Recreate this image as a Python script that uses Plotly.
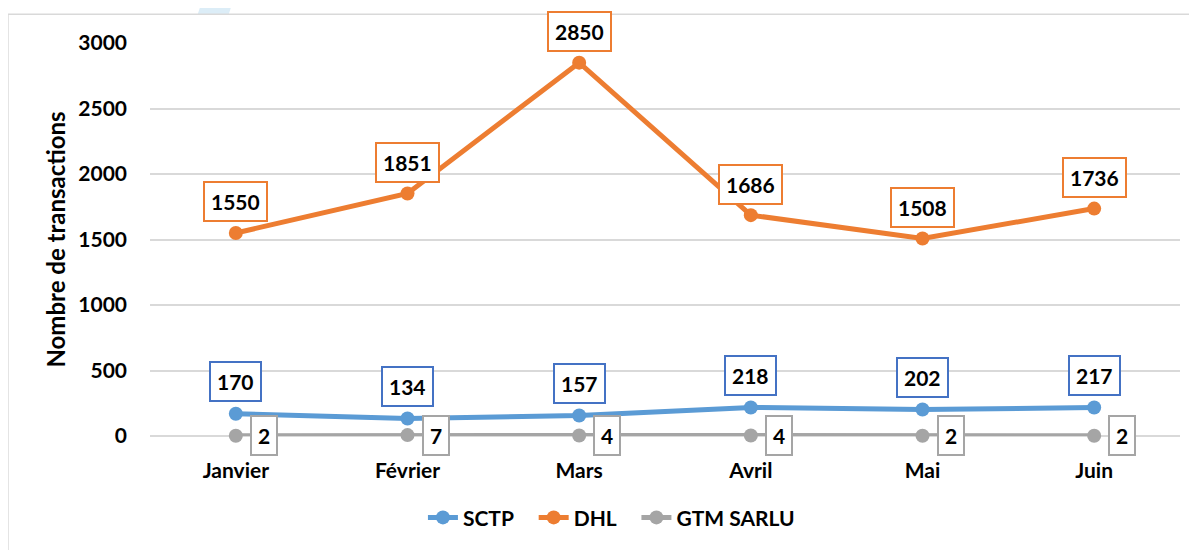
import plotly.graph_objects as go

months = ["Janvier", "Février", "Mars", "Avril", "Mai", "Juin"]
sctp = [170, 134, 157, 218, 202, 217]
dhl = [1550, 1851, 2850, 1686, 1508, 1736]
gtm = [2, 7, 4, 4, 2, 2]
y_ticks = [0, 500, 1000, 1500, 2000, 2500, 3000]

FONT = "Lato"
PAD = "\u00a0\u00a0\u00a0"
series = [
    ("SCTP", sctp, "#5B9BD5", "#4472C4", 0, 32),
    ("DHL", dhl, "#ED7D31", "#ED7D31", 0, 31),
    ("GTM SARLU", gtm, "#A5A5A5", "#A5A5A5", 28, 0),
]

fig = go.Figure()
annotations = []
for i, (name, vals, col, bcol, xs, ys) in enumerate(series):
    fig.add_trace(go.Scatter(
        x=months, y=vals, name=name + (PAD if i < len(series) - 1 else ""),
        mode="lines+markers",
        line=dict(color=col, width=5),
        marker=dict(color=col, size=14),
        cliponaxis=False,
    ))
    for m, v in zip(months, vals):
        annotations.append(dict(
            x=m, y=v, text=str(v), showarrow=False,
            xshift=xs, yshift=ys,
            font=dict(family=FONT, size=21, color="#000000", weight="bold"),
            bgcolor="#FFFFFF", bordercolor=bcol, borderwidth=2, borderpad=6,
        ))

shapes = [
    # decorative stripe outside the chart frame
    dict(type="path", xref="paper", yref="paper", layer="below",
         path="M 0.0534,1.13 L 0.0835,1.13 L 0.0748,1.06 L 0.0447,1.06 Z",
         fillcolor="#DCEDF7", line=dict(width=0)),
    # chart frame
    dict(type="rect", xref="paper", yref="paper", layer="below",
         x0=-0.1379, x1=1.03, y0=-0.35, y1=1.0734,
         line=dict(color="#D9D9D9", width=1.5), fillcolor="#FFFFFF"),
]

fig.update_layout(
    width=1189, height=542,
    margin=dict(l=142, r=17, t=35, b=112),
    paper_bgcolor="#FFFFFF", plot_bgcolor="rgba(0,0,0,0)",
    font=dict(family=FONT, size=21, color="#000000"),
    showlegend=True,
    legend=dict(orientation="h", x=0.448, xanchor="center", y=-0.208, yanchor="middle",
                font=dict(family=FONT, size=21, color="#000000", weight="bold"),
                tracegroupgap=0),
    annotations=annotations,
    shapes=shapes,
)
fig.update_xaxes(
    type="category", range=[-0.5, 5.5], autorange=False,
    showgrid=False, showline=False, zeroline=False, ticks="",
    tickfont=dict(family=FONT, size=21, color="#000000", weight="bold"),
    ticklabelstandoff=20,
)
fig.update_yaxes(
    range=[0, 3000], autorange=False, tickvals=y_ticks,
    showgrid=True, gridcolor="#D9D9D9", gridwidth=1.5,
    zeroline=True, zerolinecolor="#D9D9D9", zerolinewidth=1.5, showline=False, ticks="",
    tickfont=dict(family=FONT, size=21, color="#000000", weight="bold"),
    ticklabelstandoff=22,
    title=dict(text="Nombre de transactions", standoff=5,
               font=dict(family=FONT, size=24, color="#000000", weight="bold")),
)

fig.write_html("out.html")
